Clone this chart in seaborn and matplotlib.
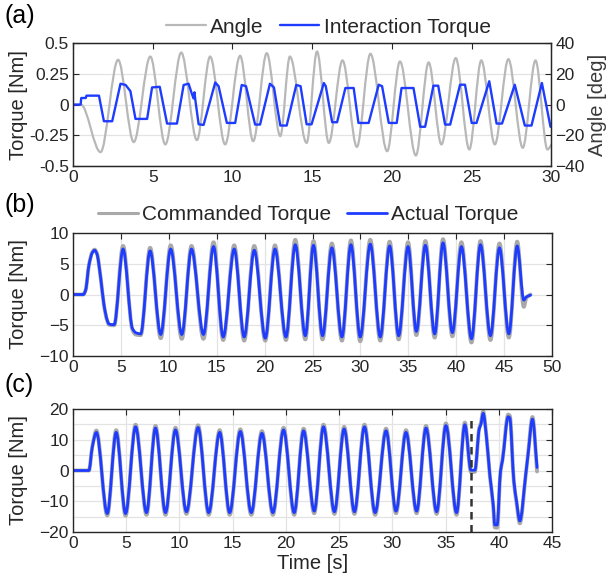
import matplotlib
matplotlib.use("Agg")
import matplotlib.pyplot as plt
import seaborn as sns
from matplotlib.ticker import MultipleLocator
from matplotlib.lines import Line2D
from matplotlib.path import Path
from matplotlib.patches import PathPatch

# ---- (a) angle [deg] and interaction torque [Nm] ----
angle_t = [0, 0.5, 1.73, 2.83, 3.81, 4.85, 5.79, 6.79, 7.77, 8.6, 9.54, 10.48, 11.3, 12.15,
           13.0, 13.6, 14.65, 15.3, 16.04, 16.9, 17.8, 18.65, 19.7, 20.5, 21.5, 22.3, 23.1,
           24.0, 24.85, 25.6, 26.45, 27.3, 28.2, 29.0, 29.75, 30.0]
angle_deg = [0, 0, -30.9, 29.2, -24.4, 31.3, -25.9, 33.9, -23.1, 31.3, -25.9, 31.8, -23.8, 33.5,
             -20.5, 31.3, -24.9, 34.6, -24.9, 28.8, -27.5, 33.1, -30.3, 28.1, -33.1, 27.5, -25.9,
             30.3, -29.2, 28.8, -25.9, 29.6, -28.1, 28.8, -29.2, -26.0]

inter_t = [0, 0.48, 0.52, 0.8, 0.85, 1.63, 1.94, 2.46, 2.98, 3.3,
           3.6, 3.92, 4.65, 4.96, 5.44, 5.9, 6.52, 6.94, 7.25, 7.45,
           7.56, 7.62, 7.67, 7.88, 8.19, 8.92, 9.13, 9.65, 10.17, 10.58,
           10.85, 11.42, 11.73, 12.35, 12.6, 13.0, 13.4, 14.0, 14.27, 14.65,
           14.96, 15.73, 15.85, 16.25, 16.56, 17.08, 17.6, 17.9, 18.54, 19.17,
           19.38, 19.8, 20.3, 20.6, 21.35, 21.77, 22.08, 22.6, 22.9, 23.33,
           23.65, 24.27, 24.58, 25.0, 25.3, 26.1, 26.56, 26.9, 27.7, 28.33,
           28.75, 29.4, 29.94, 30.0]
inter_nm = [0, 0, 0.054, 0.054, 0.073, 0.073, -0.135, -0.135, 0.17, 0.16,
            0.11, -0.116, -0.116, 0.14, 0.145, -0.154, -0.154, 0.16, 0.17, 0.09,
            0.05, 0.1, 0.04, -0.16, -0.165, 0.18, 0.15, -0.149, -0.149, 0.16,
            0.15, -0.162, -0.162, 0.17, 0.14, -0.17, -0.17, 0.16, 0.15, -0.16,
            -0.16, 0.176, 0.15, -0.143, -0.143, 0.135, 0.135, -0.149, -0.149, 0.162,
            0.15, -0.149, -0.149, 0.135, 0.135, -0.18, -0.18, 0.154, 0.154, -0.162,
            -0.162, 0.162, 0.162, -0.149, -0.149, 0.19, -0.154, -0.154, 0.162, -0.17,
            -0.17, 0.176, -0.18, -0.18]

# ---- (b) commanded vs actual torque ----
b_t = [0, 1.08, 1.32, 1.67, 2.02, 2.26, 2.5, 2.9, 3.24, 3.58, 3.76, 4.3,
       5.23, 6.2, 6.55, 7.07,
       8.05, 9.16, 10.2, 11.36, 12.37, 13.62, 14.67, 15.68, 16.83, 17.87,
       18.92, 20.07, 21.08, 22.23, 23.2, 24.25, 25.1, 26.05, 27.02, 28.07,
       29.01, 29.98, 31.03, 32.07, 33.05, 33.99, 34.97, 35.84, 36.78, 37.75,
       38.62, 39.6, 40.54, 41.59, 42.53, 43.57, 44.51, 45.49, 46.36,
       47.05, 47.3, 47.75]
b_actual = [0, 0, 0.7, 4.8, 6.8, 7.2, 6.6, 2.6, -1.7, -4.2, -4.8, -4.9,
            7.4, -5.5, -6.2, -6.4,
            7.1, -6.5, 7.4, -6.5, 7.4, -6.5, 7.8, -6.9, 7.4, -6.9,
            7.2, -7.1, 7.4, -6.9, 8.1, -6.7, 8.0, -6.7, 7.6, -6.9,
            8.1, -6.9, 8.2, -6.9, 7.9, -6.7, 7.8, -6.0, 8.0, -6.4,
            8.4, -6.2, 7.8, -7.2, 8.1, -6.7, 7.6, -6.4, 7.9,
            -0.9, -0.4, -0.1]
b_commanded = [0, 0, 0.7, 4.8, 6.9, 7.3, 6.7, 2.6, -1.8, -4.3, -4.9, -5.0,
               7.9, -5.7, -6.5, -6.6,
               7.6, -7.1, 8.0, -7.2, 7.9, -7.2, 8.5, -7.4, 8.0, -7.5,
               7.9, -7.5, 8.0, -7.4, 8.9, -7.3, 8.7, -7.3, 8.3, -7.5,
               8.8, -7.6, 8.9, -7.5, 8.6, -7.3, 8.5, -6.6, 8.7, -7.0,
               9.0, -6.8, 8.5, -7.8, 8.7, -7.4, 8.3, -7.0, 8.6,
               -2.0, -0.6, 0.0]

# ---- (c) commanded vs actual torque with disturbance ----
c_t = [0, 1.5, 1.81, 2.2,
       3.22, 4.06, 4.94, 5.88, 6.91, 7.75, 8.69, 9.63, 10.66, 11.75,
       12.75, 13.78, 14.72, 15.72, 16.75, 17.75, 18.78, 19.78, 20.78, 21.66,
       22.66, 23.53, 24.56, 25.47, 26.44, 27.38, 28.38, 29.41, 30.34, 31.28,
       32.28, 33.16, 34.16, 35.03, 36.03, 36.81,
       37.38, 37.75, 38.16, 38.31, 38.53, 38.84, 39.16, 39.47, 39.62, 39.84,
       40.16, 40.34, 40.88, 41.03, 41.41, 41.66, 41.97, 42.53, 42.75, 43.16,
       43.59]
c_actual = [0, 0, 7.5, 12.4,
            -14.0, 12.4, -14.0, 14.2, -13.7, 13.8, -13.7, 13.2, -13.4, 14.0,
            -13.7, 12.4, -13.7, 12.7, -13.7, 12.1, -13.7, 13.2, -13.7, 12.9,
            -13.2, 14.2, -13.4, 13.5, -13.4, 14.2, -13.7, 12.9, -13.2, 12.4,
            -13.2, 13.8, -13.4, 14.6, -13.7, 14.9,
            0.1, 0.1, 13.5, 14.9, 18.6, 10.8, -1.7, -11.0, -17.7, -17.7,
            -0.1, 3.2, 17.5, 17.1, -3.4, -9.9, -16.4, -1.2, 5.3, 16.7,
            1.0]
c_commanded = [0, 0, 7.6, 13.0,
               -14.6, 13.1, -14.7, 14.9, -14.4, 14.5, -14.4, 13.9, -14.1, 14.7,
               -14.4, 13.1, -14.4, 13.4, -14.4, 12.8, -14.4, 13.9, -14.4, 13.6,
               -13.9, 14.9, -14.1, 14.2, -14.1, 14.9, -14.4, 13.6, -13.9, 13.1,
               -13.9, 14.5, -14.1, 15.3, -14.4, 15.6,
               -0.5, -0.4, 13.8, 15.4, 19.2, 11.0, -1.9, -11.5, -18.5, -18.6,
               -0.3, 3.4, 18.2, 17.8, -3.6, -10.4, -17.2, -1.3, 5.6, 17.4,
               -0.3]
switch_time = 37.4

BLUE = "#1e3cff"
GRAY = "#b8b8b8"
CMD_GRAY = "#a9a9a9"
DARK = "#262626"


def smooth_line(ax, t, y, **kw):
    # monotone cubic (Bezier) segments through the read points, flat at peaks/troughs
    n = len(t)
    h = [t[k + 1] - t[k] for k in range(n - 1)]
    d = [(y[k + 1] - y[k]) / h[k] for k in range(n - 1)]
    m = [d[0]] + [0.0] * (n - 2) + [d[-1]]
    for k in range(1, n - 1):
        if d[k - 1] * d[k] > 0:
            w1, w2 = 2 * h[k] + h[k - 1], h[k] + 2 * h[k - 1]
            m[k] = (w1 + w2) / (w1 / d[k - 1] + w2 / d[k])
    verts, codes = [(t[0], y[0])], [Path.MOVETO]
    for k in range(n - 1):
        verts += [(t[k] + h[k] / 3, y[k] + m[k] * h[k] / 3),
                  (t[k + 1] - h[k] / 3, y[k + 1] - m[k + 1] * h[k] / 3),
                  (t[k + 1], y[k + 1])]
        codes += [Path.CURVE4] * 3
    ax.add_patch(PathPatch(Path(verts, codes), fill=False, capstyle="round",
                           joinstyle="round", **kw))


sns.set_style("whitegrid")
plt.rcParams["font.family"] = ["Liberation Sans", "DejaVu Sans"]
plt.rcParams["axes.edgecolor"] = DARK
plt.rcParams["grid.color"] = "#e3e3e3"
plt.rcParams["grid.linewidth"] = 0.9

fig = plt.figure(figsize=(6.08, 5.87), dpi=100)
L, W, H = 0.120, 0.787, 0.2095
ax_a = fig.add_axes([L, 0.717, W, H])
ax_b = fig.add_axes([L, 0.3935, W + 0.001, H])
ax_c = fig.add_axes([L, 0.0937, W + 0.001, H])

TICK = 12.5
LAB = 14.5
LEG = 15


def style(ax):
    ax.tick_params(which="both", direction="in", top=True, right=True, colors=DARK,
                   labelsize=TICK, length=4, width=0.8, pad=3)
    for s in ax.spines.values():
        s.set_color(DARK)
        s.set_linewidth(1.0)
    ax.set_axisbelow(True)


# (a)
ax_a2 = ax_a.twinx()
ax_a.set_zorder(ax_a2.get_zorder() + 1)
ax_a.patch.set_visible(False)
ax_a2.patch.set_visible(True)
ax_a2.patch.set_facecolor("white")
smooth_line(ax_a2, angle_t, angle_deg, edgecolor=GRAY, lw=1.6)
sns.lineplot(x=inter_t, y=inter_nm, ax=ax_a, color=BLUE, lw=1.7, estimator=None, sort=False)
ax_a.set_xlim(0, 30)
ax_a.set_ylim(-0.5, 0.5)
ax_a2.set_ylim(-40, 40)
ax_a.set_yticks([-0.5, -0.25, 0, 0.25, 0.5])
ax_a.set_yticklabels(["-0.5", "-0.25", "0", "0.25", "0.5"])
ax_a2.set_yticks([-40, -20, 0, 20, 40])
ax_a.xaxis.set_major_locator(MultipleLocator(5))
ax_a.grid(False)
ax_a2.grid(True)
ax_a2.xaxis.grid(True)
style(ax_a)
ax_a.tick_params(right=False)
ax_a2.tick_params(direction="in", colors=DARK, labelsize=TICK, length=4, width=0.8,
                  left=False, right=True, pad=3)
ax_a.set_ylabel("Torque [Nm]", fontsize=LAB, color=DARK)
ax_a2.set_ylabel("Angle [deg]", fontsize=LAB, color="#3a3a3a")
ax_a.yaxis.set_label_coords(-0.094, 0.5)
ax_a2.yaxis.set_label_coords(1.077, 0.5)
fig.legend(handles=[Line2D([], [], color=GRAY, lw=1.6), Line2D([], [], color=BLUE, lw=1.7)],
           labels=["Angle", "Interaction Torque"], loc="center", bbox_to_anchor=(0.54, 0.954),
           ncol=2, frameon=False, fontsize=LEG, handlelength=1.9, handletextpad=0.2,
           columnspacing=0.8, borderpad=0)

# (b)
smooth_line(ax_b, b_t, b_commanded, edgecolor=CMD_GRAY, lw=2.8)
smooth_line(ax_b, b_t, b_actual, edgecolor=BLUE, lw=2.0)
ax_b.set_xlim(0, 50)
ax_b.set_ylim(-10, 10)
ax_b.xaxis.set_major_locator(MultipleLocator(5))
ax_b.yaxis.set_major_locator(MultipleLocator(5))
style(ax_b)
ax_b.set_ylabel("Torque [Nm]", fontsize=LAB, color=DARK)
ax_b.yaxis.set_label_coords(-0.094, 0.5)
fig.legend(handles=[Line2D([], [], color=CMD_GRAY, lw=2.2), Line2D([], [], color=BLUE, lw=2.0)],
           labels=["Commanded Torque", "Actual Torque"], loc="center",
           bbox_to_anchor=(0.507, 0.634), ncol=2, frameon=False, fontsize=LEG,
           handlelength=1.9, handletextpad=0.2, columnspacing=0.8, borderpad=0)

# (c)
smooth_line(ax_c, c_t, c_commanded, edgecolor=CMD_GRAY, lw=2.8)
smooth_line(ax_c, c_t, c_actual, edgecolor=BLUE, lw=2.0)
ax_c.plot([switch_time, switch_time], [-20, 17.5], color="#333333", lw=1.8, ls=(0, (3, 2.2)))
ax_c.set_xlim(0, 45)
ax_c.set_ylim(-20, 20)
ax_c.xaxis.set_major_locator(MultipleLocator(5))
ax_c.yaxis.set_major_locator(MultipleLocator(10))
ax_c.yaxis.set_minor_locator(MultipleLocator(5))
ax_c.grid(True, which="both", axis="y")
style(ax_c)
ax_c.tick_params(which="minor", length=3, top=False)
ax_c.set_ylabel("Torque [Nm]", fontsize=LAB, color=DARK)
ax_c.yaxis.set_label_coords(-0.094, 0.5)
ax_c.set_xlabel("Time [s]", fontsize=LAB, color=DARK, labelpad=2)

for lab, y in [("(a)", 0.972), ("(b)", 0.651), ("(c)", 0.344)]:
    fig.text(0.008, y, lab, fontsize=18, color="black", ha="left", va="center")

fig.savefig("out.png", dpi=100)
